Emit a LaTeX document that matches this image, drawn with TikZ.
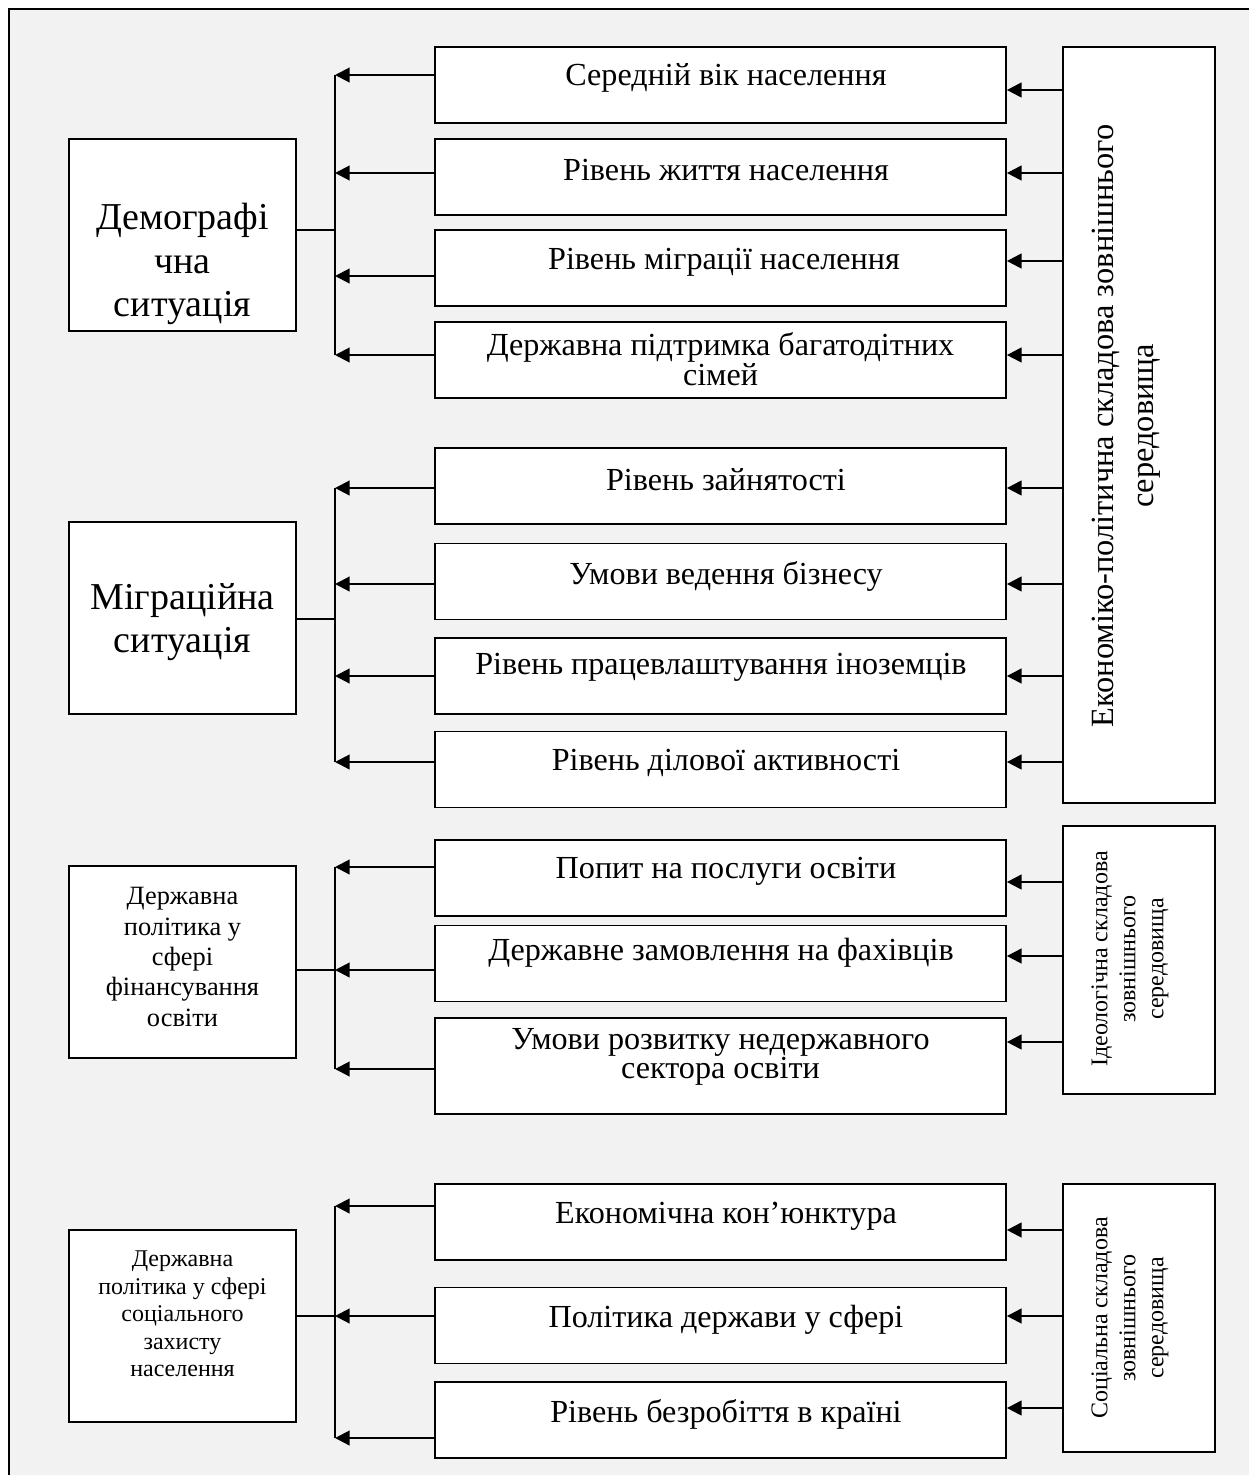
\documentclass[tikz,border=0pt]{standalone}
\usepackage{fontspec}
\setmainfont{Liberation Serif}
\usetikzlibrary{arrows.meta}
\definecolor{bgray}{HTML}{F2F2F2}
\begin{document}
\begin{tikzpicture}[x=0.75pt,y=-0.75pt,
  box/.style={draw, fill=white, line width=1.3pt, inner sep=0pt},
  mid/.style={box, minimum width=571*0.75pt, minimum height=76*0.75pt},
  lft/.style={box, minimum width=227*0.75pt, minimum height=192*0.75pt},
  rgt/.style={box, minimum width=152*0.75pt},
  midtxt/.style={font=\fontsize{24.1}{20.3}\selectfont, align=center, inner sep=0pt},
  rtxt/.style={font=\fontsize{18}{21}\selectfont, align=center, inner sep=0pt, rotate=90},
  arr/.style={line width=1.6pt, -{Triangle[length=11pt,width=11pt]}},
  bus/.style={line width=1.5pt},
  conn/.style={line width=1pt}]
% background and frame
\useasboundingbox (0,0) rectangle (1249,1475);
\fill[white] (0,0) rectangle (1249,1475);
\fill[bgray] (9,9) rectangle (1249,1475);
\draw[line width=1.3pt] (9,1475) -- (9,9) -- (1249,9);

% middle boxes
\node[mid] (m11) at (720.5,85) {};
\node[mid] (m12) at (720.5,177) {};
\node[mid] (m13) at (720.5,268) {};
\node[mid] (m14) at (720.5,360) {};
\node[mid] (m21) at (720.5,486) {};
\node[mid] (m22) at (720.5,581.5) {};
\node[mid] (m23) at (720.5,676) {};
\node[mid] (m24) at (720.5,769.5) {};
\node[mid] (m31) at (720.5,878) {};
\node[mid] (m32) at (720.5,963.5) {};
\node[mid, minimum height=96*0.75pt] (m33) at (720.5,1066) {};
\node[mid] (m41) at (720.5,1222) {};
\node[mid] (m42) at (720.5,1325.5) {};
\node[mid] (m43) at (720.5,1420) {};

\node[midtxt] (t11) at (726,78) {Середній вік населення};
\node[midtxt] (t12) at (726,170) {Рівень життя населення};
\node[midtxt] (t13) at (724,262) {Рівень міграції населення};
\node[midtxt] (t14) at (720.5,359) {Державна підтримка багатодітних\\сімей};
\node[midtxt] (t21) at (726,480) {Рівень зайнятості};
\node[midtxt] (t22) at (726,576) {Умови ведення бізнесу};
\node[midtxt] (t23) at (721,667) {Рівень працевлаштування іноземців};
\node[midtxt] (t24) at (726,763) {Рівень ділової активності};
\node[midtxt] (t31) at (726,871) {Попит на послуги освіти};
\node[midtxt] (t32) at (721,953) {Державне замовлення на фахівців};
\node[midtxt] (t33) at (720.5,1057) {Умови розвитку недержавного\\сектора освіти};
\node[midtxt] (t41) at (726,1216) {Економічна кон’юнктура};
\node[midtxt] (t42) at (726,1320) {Політика держави у сфері};
\node[midtxt] (t43) at (726,1414) {Рівень безробіття в країні};

% left boxes
\node[lft] (L1) at (182.5,235) {};
\node[lft] (L2) at (182.5,618) {};
\node[lft] (L3) at (182.5,962) {};
\node[lft] (L4) at (182.5,1326) {};
\node[font=\fontsize{28.5}{32.5}\selectfont, align=center, inner sep=0pt] (tL1) at (182.5,264) {Демографі\\чна\\ситуація};
\node[font=\fontsize{28.5}{32.5}\selectfont, align=center, inner sep=0pt] (tL2) at (182.5,622) {Міграційна\\ситуація};
\node[font=\fontsize{19.8}{22.7}\selectfont, align=center, inner sep=0pt] (tL3) at (182.5,957) {Державна\\політика у\\сфері\\фінансування\\освіти};
\node[font=\fontsize{18}{20.6}\selectfont, align=center, inner sep=0pt] (tL4) at (182.5,1314) {Державна\\політика у сфері\\соціального\\захисту\\населення};

% right boxes
\node[rgt, minimum height=756*0.75pt] (R1) at (1139,425) {};
\node[rgt, minimum height=268*0.75pt] (R2) at (1139,960) {};
\node[rgt, minimum height=268*0.75pt] (R3) at (1139,1318) {};
\node[rtxt, font=\fontsize{24.3}{30}\selectfont] (tR1) at (1126,426) {Економіко-політична складова зовнішнього\\середовища};
\node[rtxt] (tR2) at (1130,959) {Ідеологічна складова\\зовнішнього\\середовища};
\node[rtxt] (tR3) at (1130,1318) {Соціальна складова\\зовнішнього\\середовища};

% group 1
\coordinate (b11) at (335,75);
\coordinate (b12) at (335,173);
\coordinate (b13) at (335,276);
\coordinate (b14) at (335,355);
\coordinate (c1) at (335,230);
\draw[bus] (b11) -- (b14);
\draw[conn] (L1.east |- c1) -- (c1);
\draw[arr] (m11.west |- b11) -- (b11);
\draw[arr] (m12.west |- b12) -- (b12);
\draw[arr] (m13.west |- b13) -- (b13);
\draw[arr] (m14.west |- b14) -- (b14);
\coordinate (r11) at (1063,90);
\coordinate (r12) at (1063,173);
\coordinate (r13) at (1063,261);
\coordinate (r14) at (1063,355);
\draw[arr] (r11) -- (m11.east |- r11);
\draw[arr] (r12) -- (m12.east |- r12);
\draw[arr] (r13) -- (m13.east |- r13);
\draw[arr] (r14) -- (m14.east |- r14);

% group 2
\coordinate (b21) at (335,488);
\coordinate (b22) at (335,584);
\coordinate (b23) at (335,676);
\coordinate (b24) at (335,762);
\coordinate (c2) at (335,619);
\draw[bus] (b21) -- (b24);
\draw[conn] (L2.east |- c2) -- (c2);
\draw[arr] (m21.west |- b21) -- (b21);
\draw[arr] (m22.west |- b22) -- (b22);
\draw[arr] (m23.west |- b23) -- (b23);
\draw[arr] (m24.west |- b24) -- (b24);
\coordinate (r21) at (1063,488);
\coordinate (r22) at (1063,584);
\coordinate (r23) at (1063,676);
\coordinate (r24) at (1063,762);
\draw[arr] (r21) -- (m21.east |- r21);
\draw[arr] (r22) -- (m22.east |- r22);
\draw[arr] (r23) -- (m23.east |- r23);
\draw[arr] (r24) -- (m24.east |- r24);

% group 3
\coordinate (b31) at (335,867);
\coordinate (b32) at (335,970);
\coordinate (b33) at (335,1069);
\coordinate (c3) at (335,970);
\draw[bus] (b31) -- (b33);
\draw[conn] (L3.east |- c3) -- (c3);
\draw[arr] (m31.west |- b31) -- (b31);
\draw[arr] (m32.west |- b32) -- (b32);
\draw[arr] (m33.west |- b33) -- (b33);
\coordinate (r31) at (1063,882);
\coordinate (r32) at (1063,956);
\coordinate (r33) at (1063,1042);
\draw[arr] (r31) -- (m31.east |- r31);
\draw[arr] (r32) -- (m32.east |- r32);
\draw[arr] (r33) -- (m33.east |- r33);

% group 4
\coordinate (b41) at (335,1206);
\coordinate (b42) at (335,1316);
\coordinate (b43) at (335,1438);
\coordinate (c4) at (335,1316);
\draw[bus] (b41) -- (b43);
\draw[conn] (L4.east |- c4) -- (c4);
\draw[arr] (m41.west |- b41) -- (b41);
\draw[arr] (m42.west |- b42) -- (b42);
\draw[arr] (m43.west |- b43) -- (b43);
\coordinate (r41) at (1063,1230);
\coordinate (r42) at (1063,1316);
\coordinate (r43) at (1063,1408);
\draw[arr] (r41) -- (m41.east |- r41);
\draw[arr] (r42) -- (m42.east |- r42);
\draw[arr] (r43) -- (m43.east |- r43);
\end{tikzpicture}
\end{document}
